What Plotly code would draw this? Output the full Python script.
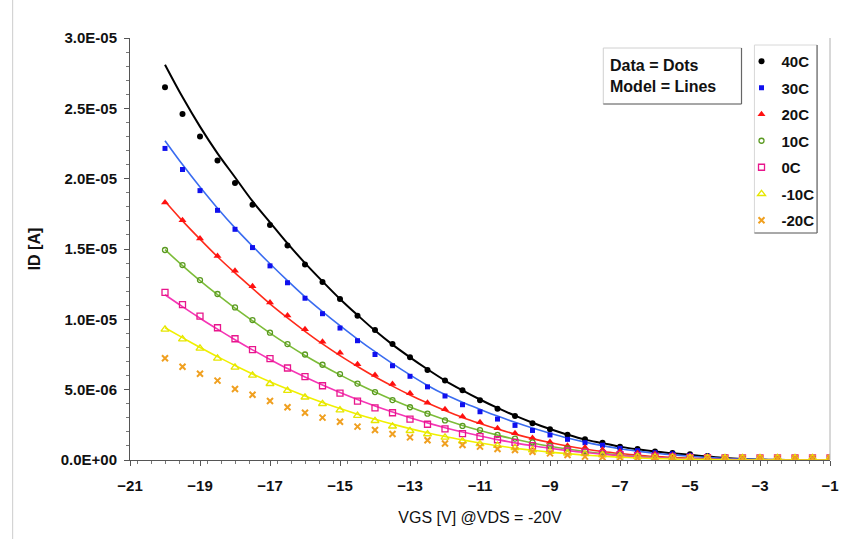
import plotly.graph_objects as go

# ---------------- data (currents in microamps) ----------------
vgs = [-20, -19.5, -19, -18.5, -18, -17.5, -17, -16.5, -16, -15.5, -15, -14.5, -14, -13.5,
       -13, -12.5, -12, -11.5, -11, -10.5, -10, -9.5, -9, -8.5, -8, -7.5, -7, -6.5, -6,
       -5.5, -5, -4.5, -4, -3.5, -3, -2.5, -2, -1.5, -1]

series_names = ["40C", "30C", "20C", "10C", "0C", "-10C", "-20C"]

data_40c = [26.5, 24.6, 23.0, 21.3, 19.7, 18.15, 16.7, 15.25, 13.9, 12.65, 11.45, 10.25, 9.25, 8.25,
            7.3, 6.4, 5.65, 4.95, 4.25, 3.65, 3.12, 2.62, 2.18, 1.8, 1.48, 1.22, 0.95, 0.78, 0.6,
            0.5, 0.4, 0.28, 0.2, 0.16, 0.15, 0.15, 0.15, 0.15, 0.15]
data_30c = [22.15, 20.65, 19.15, 17.75, 16.4, 15.1, 13.8, 12.6, 11.5, 10.4, 9.38, 8.48, 7.5, 6.7,
            5.95, 5.2, 4.55, 3.93, 3.43, 2.91, 2.46, 2.1, 1.78, 1.47, 1.23, 1.05, 0.83, 0.66, 0.52,
            0.43, 0.33, 0.27, 0.2, 0.16, 0.15, 0.15, 0.15, 0.15, 0.15]
data_20c = [18.3, 17.05, 15.75, 14.5, 13.45, 12.35, 11.2, 10.28, 9.3, 8.4, 7.62, 6.8, 6.05, 5.4,
            4.75, 4.07, 3.6, 3.1, 2.68, 2.25, 1.9, 1.56, 1.28, 1.02, 0.88, 0.72, 0.6, 0.5, 0.42,
            0.33, 0.27, 0.21, 0.17, 0.15, 0.15, 0.15, 0.15, 0.15, 0.15]
data_10c = [14.93, 13.86, 12.79, 11.8, 10.85, 9.95, 9.05, 8.24, 7.5, 6.77, 6.11, 5.43, 4.83, 4.26,
            3.75, 3.29, 2.81, 2.42, 2.13, 1.78, 1.52, 1.26, 1.0, 0.83, 0.64, 0.53, 0.44, 0.36, 0.3,
            0.25, 0.21, 0.18, 0.16, 0.15, 0.15, 0.15, 0.15, 0.15, 0.15]
data_0c = [11.92, 11.04, 10.23, 9.4, 8.62, 7.84, 7.2, 6.54, 5.93, 5.28, 4.76, 4.19, 3.7, 3.36,
           2.91, 2.54, 2.21, 1.87, 1.66, 1.44, 1.26, 1.02, 0.85, 0.64, 0.55, 0.46, 0.38, 0.31, 0.26,
           0.22, 0.19, 0.17, 0.15, 0.15, 0.15, 0.15, 0.15, 0.15, 0.15]
data_m10c = [9.29, 8.6, 7.94, 7.23, 6.59, 6.02, 5.42, 4.93, 4.46, 4.0, 3.55, 3.15, 2.79, 2.4,
             2.08, 1.85, 1.61, 1.35, 1.14, 1.02, 0.87, 0.71, 0.59, 0.47, 0.43, 0.36, 0.3, 0.25, 0.21,
             0.18, 0.16, 0.15, 0.15, 0.15, 0.15, 0.15, 0.15, 0.15, 0.15]
data_m20c = [7.23, 6.63, 6.13, 5.64, 5.05, 4.64, 4.19, 3.75, 3.36, 3.01, 2.72, 2.37, 2.13, 1.85,
             1.61, 1.4, 1.17, 1.07, 0.95, 0.78, 0.71, 0.59, 0.47, 0.36, 0.24, 0.2, 0.18, 0.15, 0.15,
             0.15, 0.15, 0.15, 0.15, 0.15, 0.15, 0.15, 0.15, 0.15, 0.15]

model_40c = [28.1, 25.8, 23.7, 21.8, 20.1, 18.4, 16.9, 15.4, 14.0, 12.7, 11.45, 10.3, 9.2, 8.2,
             7.3, 6.45, 5.65, 4.95, 4.3, 3.7, 3.15, 2.65, 2.2, 1.8, 1.45, 1.2, 0.95, 0.76, 0.6,
             0.48, 0.37, 0.25, 0.14, 0.07, 0.03, 0.01, 0.0, 0.0, 0.0]
model_30c = [22.7, 21.0, 19.4, 17.9, 16.5, 15.2, 13.95, 12.75, 11.6, 10.55, 9.55, 8.6, 7.7, 6.85,
             6.05, 5.3, 4.65, 4.1, 3.6, 3.12, 2.68, 2.27, 1.9, 1.56, 1.27, 1.02, 0.8, 0.63, 0.48,
             0.37, 0.27, 0.18, 0.11, 0.06, 0.03, 0.01, 0.0, 0.0, 0.0]
model_20c = [18.4, 17.0, 15.7, 14.45, 13.3, 12.2, 11.1, 10.1, 9.15, 8.25, 7.42, 6.65, 5.92, 5.25,
             4.62, 4.05, 3.52, 3.03, 2.6, 2.2, 1.84, 1.52, 1.24, 0.99, 0.78, 0.6, 0.46, 0.34, 0.25,
             0.18, 0.12, 0.07, 0.04, 0.02, 0.01, 0.0, 0.0, 0.0, 0.0]
model_10c = [14.95, 13.82, 12.75, 11.75, 10.8, 9.9, 9.02, 8.2, 7.43, 6.72, 6.05, 5.42, 4.83, 4.28,
             3.77, 3.3, 2.86, 2.46, 2.1, 1.77, 1.47, 1.21, 0.98, 0.78, 0.61, 0.47, 0.35, 0.26, 0.18,
             0.12, 0.08, 0.05, 0.03, 0.01, 0.0, 0.0, 0.0, 0.0, 0.0]
model_0c = [11.75, 10.9, 10.08, 9.3, 8.55, 7.83, 7.15, 6.5, 5.9, 5.33, 4.8, 4.3, 3.84, 3.41,
            3.01, 2.64, 2.3, 1.99, 1.71, 1.45, 1.22, 1.01, 0.83, 0.67, 0.53, 0.41, 0.31, 0.23, 0.16,
            0.11, 0.07, 0.04, 0.02, 0.01, 0.0, 0.0, 0.0, 0.0, 0.0]
model_m10c = [9.4, 8.7, 8.0, 7.35, 6.72, 6.12, 5.56, 5.04, 4.55, 4.09, 3.66, 3.26, 2.89, 2.55,
              2.23, 1.94, 1.67, 1.43, 1.21, 1.01, 0.84, 0.69, 0.56, 0.45, 0.35, 0.27, 0.2, 0.14, 0.1,
              0.07, 0.04, 0.02, 0.01, 0.0, 0.0, 0.0, 0.0, 0.0, 0.0]

data_series = [data_40c, data_30c, data_20c, data_10c, data_0c, data_m10c, data_m20c]
model_series = [model_40c, model_30c, model_20c, model_10c, model_0c, model_m10c, None]

y_tick_values = [0, 5e-6, 1e-5, 1.5e-5, 2e-5, 2.5e-5, 3e-5]
y_tick_labels = ["0.0E+00", "5.0E-06", "1.0E-05", "1.5E-05", "2.0E-05", "2.5E-05", "3.0E-05"]
x_tick_values = [-21, -19, -17, -15, -13, -11, -9, -7, -5, -3, -1]

# ---------------- styles ----------------
marker_styles = [
    dict(symbol="circle", size=6, color="#000000"),
    dict(symbol="square", size=5, color="#1010ee"),
    dict(symbol="triangle-up", size=7, color="#ff1010"),
    dict(symbol="circle-open", size=5, color="#5a9a20", line=dict(width=1.3)),
    dict(symbol="square-open", size=6, color="#e8168c", line=dict(width=1.3)),
    dict(symbol="triangle-up-open", size=7, color="#e6e600", line=dict(width=1.3)),
    dict(symbol="x-thin-open", size=6, color="#f0a020", line=dict(width=2, color="#f0a020")),
]
line_styles = [
    dict(color="#000000", width=2),
    dict(color="#3a6cf0", width=1.6),
    dict(color="#ff2a1a", width=1.6),
    dict(color="#7cbc38", width=1.6),
    dict(color="#f535b5", width=1.6),
    dict(color="#f0f000", width=1.6),
    None,
]

def ua(vals):
    return [v * 1e-6 for v in vals]

fig = go.Figure()

for name, model, ls in zip(series_names, model_series, line_styles):
    if model is None:
        continue
    fig.add_trace(go.Scatter(x=vgs, y=ua(model), mode="lines", line=dict(shape="spline", **ls),
                             showlegend=False, hoverinfo="skip", name=name + " model"))

for name, dat, ms in zip(series_names, data_series, marker_styles):
    fig.add_trace(go.Scatter(x=vgs, y=ua(dat), mode="markers", marker=ms, name=name,
                             legendgroup="g_" + name))

# pixel helpers for decorations (plot area 130..834 x, 38..460 y)
def px(xp):
    return (xp - 130) / 704.0

def py(yp):
    return (460 - yp) / 422.0

shapes = [
    # data/model box
    dict(type="rect", xref="paper", yref="paper", x0=px(606), x1=px(745), y0=py(104), y1=py(48),
         line=dict(color="#d0d0d0", width=1)),
    dict(type="line", xref="paper", yref="paper", x0=px(745), x1=px(745), y0=py(104), y1=py(48),
         line=dict(color="#666666", width=1.2)),
    dict(type="line", xref="paper", yref="paper", x0=px(606), x1=px(745), y0=py(104), y1=py(104),
         line=dict(color="#666666", width=1.2)),
    # legend box
    dict(type="rect", xref="paper", yref="paper", x0=px(758), x1=px(821), y0=py(233), y1=py(45),
         line=dict(color="#d8d8d8", width=1)),
    dict(type="line", xref="paper", yref="paper", x0=px(821), x1=px(821), y0=py(233), y1=py(45),
         line=dict(color="#666666", width=1.2)),
    dict(type="line", xref="paper", yref="paper", x0=px(758), x1=px(821), y0=py(233), y1=py(233),
         line=dict(color="#666666", width=1.2)),
    # right edge of plot area
    dict(type="line", xref="paper", yref="paper", x0=1, x1=1, y0=0, y1=1,
         line=dict(color="#b0b0b0", width=1)),
    # faint chart-area border on the left
    dict(type="line", xref="paper", yref="paper", x0=px(12), x1=px(12), y0=py(539), y1=py(0),
         line=dict(color="#cccccc", width=1)),
]

bold = dict(family="Liberation Sans, Arial, sans-serif", size=15, color="#111111", weight="bold")

fig.update_layout(
    width=851, height=539,
    margin=dict(l=130, r=17, t=38, b=79),
    paper_bgcolor="white", plot_bgcolor="white",
    font=dict(family="Liberation Sans, Arial, sans-serif", color="#111111"),
    showlegend=True,
    legend=dict(x=px(745), y=py(45), xanchor="left", yanchor="top",
                font=dict(family="Liberation Sans, Arial, sans-serif", size=15, color="#111111", weight="bold"),
                bgcolor="rgba(0,0,0,0)", borderwidth=0, traceorder="grouped", tracegroupgap=4),
    shapes=shapes,
    annotations=[
        dict(text="Data = Dots<br>Model = Lines", xref="paper", yref="paper", x=px(611), y=py(76),
             xanchor="left", yanchor="middle", align="left", showarrow=False,
             font=dict(family="Liberation Sans, Arial, sans-serif", size=16, color="#111111", weight="bold")),
    ],
)

fig.update_xaxes(
    range=[-21, -1], tickmode="array", tickvals=x_tick_values,
    showgrid=False, zeroline=False, showline=True, linecolor="#555555", linewidth=1,
    ticks="outside", ticklen=5, tickcolor="#555555", ticklabelstandoff=7,
    tickfont=bold,
    minor=dict(dtick=0.4, ticks="outside", ticklen=3, tickcolor="#777777"),
    title=dict(text="VGS [V] @VDS = -20V", standoff=18,
               font=dict(family="Liberation Sans, Arial, sans-serif", size=16, color="#111111")),
)
fig.update_yaxes(
    range=[0, 3e-5], tickmode="array", tickvals=y_tick_values, ticktext=y_tick_labels,
    showgrid=False, zeroline=False, showline=True, linecolor="#555555", linewidth=1,
    ticks="outside", ticklen=5, tickcolor="#555555", ticklabelstandoff=4,
    tickfont=bold,
    minor=dict(dtick=1e-6, ticks="outside", ticklen=3, tickcolor="#777777"),
    title=dict(text="ID [A]", standoff=16,
               font=dict(family="Liberation Sans, Arial, sans-serif", size=16, color="#111111", weight="bold")),
)

fig.write_html("out.html")
